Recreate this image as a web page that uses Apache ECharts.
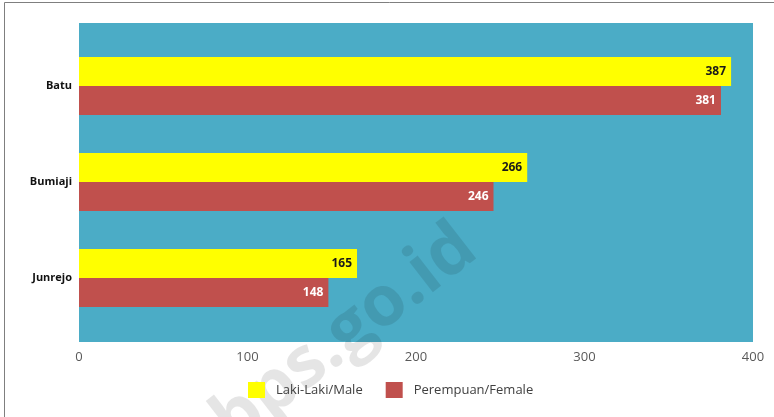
<!DOCTYPE html>
<html>
<head>
<meta charset="utf-8">
<script src="https://cdn.jsdelivr.net/npm/echarts@6/dist/echarts.min.js"></script>
<style>
  html, body { margin: 0; padding: 0; background: #fff; }
  #main { width: 774px; height: 417px; }
</style>
</head>
<body>
<div id="main"></div>
<script>
var categories = ["Batu", "Bumiaji", "Junrejo"];
var maleValues = [387, 266, 165];
var femaleValues = [381, 246, 148];
var seriesNames = ["Laki-Laki/Male", "Perempuan/Female"];
var xTicks = { min: 0, max: 400, interval: 100 };

var font = "'Open Sans', sans-serif";
var myChart = echarts.init(document.getElementById("main"));

var option = {
  backgroundColor: "#fff",
  animation: false,
  grid: [
    // teal plot background + visible value axis
    { left: 79, right: 21, top: 23, bottom: 75, show: true, backgroundColor: "#4BACC6", borderWidth: 0 },
    // bars live in an inset grid
    { left: 79, right: 21, top: 38, bottom: 91 }
  ],
  xAxis: [
    {
      gridIndex: 0,
      type: "value",
      min: xTicks.min,
      max: xTicks.max,
      interval: xTicks.interval,
      axisLine: { show: false },
      axisTick: { show: false },
      splitLine: { show: false },
      axisLabel: { color: "#595959", fontSize: 13, fontFamily: font, margin: 9 }
    },
    {
      gridIndex: 1,
      type: "value",
      min: xTicks.min,
      max: xTicks.max,
      show: false
    }
  ],
  yAxis: [
    { gridIndex: 0, type: "category", data: categories, show: false },
    {
      gridIndex: 1,
      type: "category",
      data: categories,
      inverse: true,
      axisLine: { show: false },
      axisTick: { show: false },
      axisLabel: { color: "#111", fontSize: 11, fontWeight: "bold", fontFamily: font, margin: 7 }
    }
  ],
  legend: {
    left: 243,
    top: 377,
    itemWidth: 17,
    itemHeight: 16,
    itemGap: 23,
    icon: "rect",
    data: seriesNames,
    textStyle: { color: "#404040", fontSize: 13, fontFamily: font, padding: [0, 0, 0, 6] }
  },
  series: [
    {
      name: seriesNames[0],
      type: "bar",
      xAxisIndex: 1,
      yAxisIndex: 1,
      barWidth: 29,
      barGap: "0%",
      itemStyle: { color: "#FFFF00" },
      label: {
        show: true,
        position: "insideRight",
        distance: 5,
        color: "#1a1a1a",
        fontWeight: "bold",
        fontSize: 12,
        fontFamily: font
      },
      data: maleValues
    },
    {
      name: seriesNames[1],
      type: "bar",
      xAxisIndex: 1,
      yAxisIndex: 1,
      barWidth: 29,
      barGap: "0%",
      itemStyle: { color: "#C0504D" },
      label: {
        show: true,
        position: "insideRight",
        distance: 5,
        color: "#fff",
        fontWeight: "bold",
        fontSize: 12,
        fontFamily: font
      },
      data: femaleValues
    }
  ],
  graphic: [
    {
      type: "rect",
      shape: { x: 4.5, y: 2.5, width: 900, height: 500 },
      style: { fill: null, stroke: "#7f7f7f", lineWidth: 1 },
      silent: true
    },
    {
      // faint watermark
      type: "group",
      x: 345,
      y: 335,
      rotation: 0.66,
      z: 100,
      silent: true,
      children: [
        {
          type: "text",
          style: {
            text: "bps.go.id",
            x: 0,
            y: 0,
            align: "center",
            verticalAlign: "middle",
            font: "bold 70px 'Open Sans', sans-serif",
            fill: "rgba(0,0,0,0.1)"
          }
        }
      ]
    }
  ]
};
myChart.setOption(option);
</script>
</body>
</html>
